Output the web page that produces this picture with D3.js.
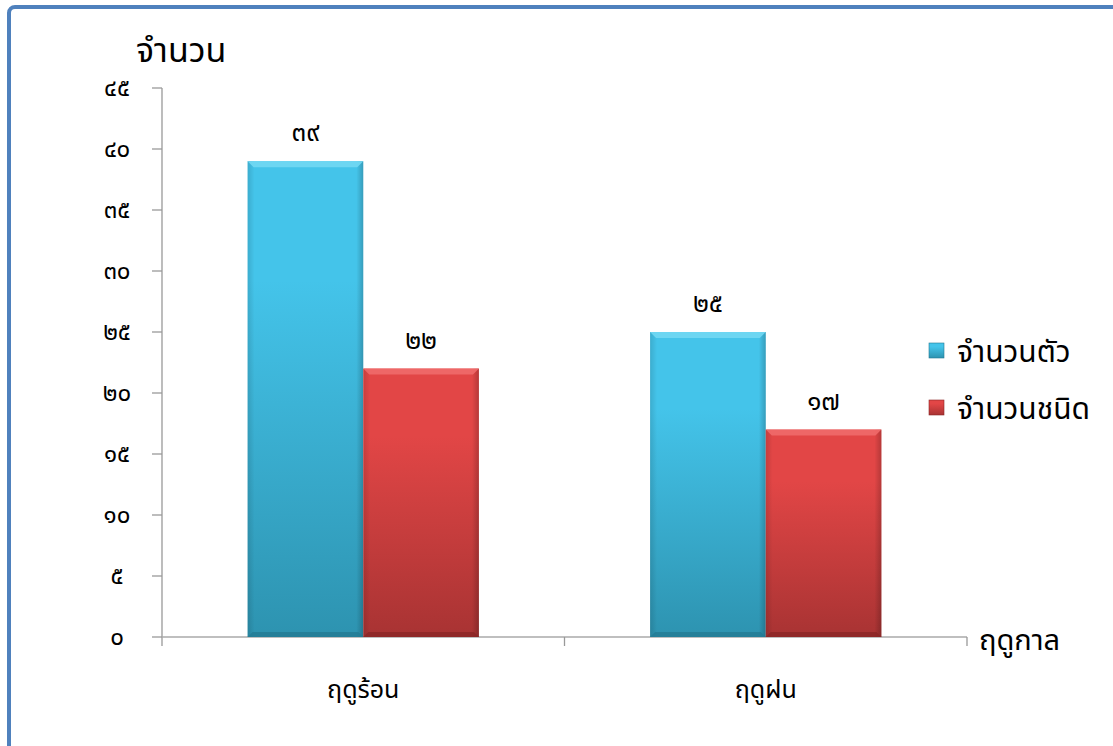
<!DOCTYPE html>
<html>
<head>
<meta charset="utf-8">
<script src="https://cdn.jsdelivr.net/npm/d3@7"></script>
<style>
  body { margin: 0; background: #fff; }
  text { font-family: "Noto Sans Thai", "Tahoma", "DejaVu Sans", "Noto Sans", sans-serif; fill: #000; }
</style>
</head>
<body>
<svg id="chart" width="1113" height="746"></svg>
<script>
// data
const categories = ["ฤดูร้อน", "ฤดูฝน"];
const seriesNames = ["จำนวนตัว", "จำนวนชนิด"];
const countValues = [39, 25];   // จำนวนตัว
const speciesValues = [22, 17]; // จำนวนชนิด
const yTicks = [0, 5, 10, 15, 20, 25, 30, 35, 40, 45];
const yTitle = "จำนวน";
const xTitle = "ฤดูกาล";

const thaiDigits = "๐๑๒๓๔๕๖๗๘๙";
function toThai(n) {
    return String(n).replace(/[0-9]/g, d => thaiDigits[+d]);
}

const rows = categories.map((c, i) => ({cat: c, values: [countValues[i], speciesValues[i]]}));

const svg = d3.select("#chart");

// frame
svg.append("rect")
    .attr("x", 9).attr("y", 7)
    .attr("width", 1300).attr("height", 900)
    .attr("rx", 6)
    .attr("fill", "#fff")
    .attr("stroke", "#4f81bd")
    .attr("stroke-width", 4);

const plotLeft = 162, plotRight = 967, plotTop = 88, plotBottom = 637;

const y = d3.scaleLinear().domain([0, 45]).range([plotBottom, plotTop]);
const x0 = d3.scaleBand().domain(categories).range([plotLeft, plotRight]);
const x1 = d3.scaleBand().domain(seriesNames).range([0, x0.bandwidth()]).paddingInner(0).paddingOuter(0.74);

// gradients for bar shading
const defs = svg.append("defs");
const palettes = [
    {id: "gBlue", top: "#44c4ea", bottom: "#2d93b0", edge: "#72d8f3", dark: "#237a93"},
    {id: "gRed", top: "#e24646", bottom: "#a83333", edge: "#f06a6a", dark: "#8a2626"}
];
palettes.forEach(p => {
    const g = defs.append("linearGradient").attr("id", p.id)
        .attr("x1", 0).attr("y1", 0).attr("x2", 0).attr("y2", 1);
    g.append("stop").attr("offset", "0%").attr("stop-color", p.top);
    g.append("stop").attr("offset", "25%").attr("stop-color", p.top);
    g.append("stop").attr("offset", "100%").attr("stop-color", p.bottom);
    const h = defs.append("linearGradient").attr("id", p.id + "H")
        .attr("x1", 0).attr("y1", 0).attr("x2", 1).attr("y2", 0);
    h.append("stop").attr("offset", "0%").attr("stop-color", "#000").attr("stop-opacity", 0.12);
    h.append("stop").attr("offset", "6%").attr("stop-color", "#000").attr("stop-opacity", 0);
    h.append("stop").attr("offset", "94%").attr("stop-color", "#000").attr("stop-opacity", 0);
    h.append("stop").attr("offset", "100%").attr("stop-color", "#000").attr("stop-opacity", 0.2);
});

// y axis
const yAxis = svg.append("g").attr("class", "axis");
yAxis.append("line")
    .attr("x1", plotLeft).attr("x2", plotLeft)
    .attr("y1", plotTop).attr("y2", plotBottom + 9)
    .attr("stroke", "#999").attr("stroke-width", 1.3);
yAxis.selectAll(".ytick")
    .data(yTicks)
    .join("line")
    .attr("x1", plotLeft - 10).attr("x2", plotLeft)
    .attr("y1", d => y(d)).attr("y2", d => y(d))
    .attr("stroke", "#999").attr("stroke-width", 1.3);
yAxis.selectAll(".ylabel")
    .data(yTicks)
    .join("text")
    .attr("x", 117)
    .attr("y", d => y(d) + 8)
    .attr("text-anchor", "middle")
    .attr("font-size", 24)
    .text(d => toThai(d));

// x axis
svg.append("line")
    .attr("x1", plotLeft).attr("x2", plotRight)
    .attr("y1", plotBottom).attr("y2", plotBottom)
    .attr("stroke", "#aaa").attr("stroke-width", 1.5);
const xTickPos = [x0(categories[1]), plotRight];
svg.selectAll(".xtick")
    .data(xTickPos)
    .join("line")
    .attr("x1", d => d).attr("x2", d => d)
    .attr("y1", plotBottom).attr("y2", plotBottom + 9)
    .attr("stroke", "#999").attr("stroke-width", 1.3);

svg.selectAll(".catlabel")
    .data(categories)
    .join("text")
    .attr("x", d => x0(d) + x0.bandwidth() / 2)
    .attr("y", 698)
    .attr("text-anchor", "middle")
    .attr("font-size", 25)
    .text(d => d);

// bars
const groups = svg.selectAll(".grp")
    .data(rows)
    .join("g")
    .attr("transform", d => `translate(${x0(d.cat)},0)`);

const bars = groups.selectAll(".bar")
    .data(d => d.values.map((v, i) => ({series: seriesNames[i], value: v, idx: i})))
    .join("g");

bars.append("rect")
    .attr("x", d => x1(d.series))
    .attr("y", d => y(d.value))
    .attr("width", x1.bandwidth())
    .attr("height", d => plotBottom - y(d.value))
    .attr("fill", d => `url(#${palettes[d.idx].id})`);
bars.append("rect")
    .attr("x", d => x1(d.series))
    .attr("y", d => y(d.value))
    .attr("width", x1.bandwidth())
    .attr("height", d => plotBottom - y(d.value))
    .attr("fill", d => `url(#${palettes[d.idx].id}H)`);
// bevel top highlight
bars.append("path")
    .attr("d", d => {
        const x = x1(d.series), w = x1.bandwidth(), t = y(d.value);
        return `M${x},${t}L${x + w},${t}L${x + w - 6},${t + 6}L${x + 6},${t + 6}Z`;
    })
    .attr("fill", d => palettes[d.idx].edge)
    .attr("opacity", 0.9);
// bevel bottom shade
bars.append("path")
    .attr("d", d => {
        const x = x1(d.series), w = x1.bandwidth();
        return `M${x},${plotBottom}L${x + w},${plotBottom}L${x + w - 5},${plotBottom - 5}L${x + 5},${plotBottom - 5}Z`;
    })
    .attr("fill", d => palettes[d.idx].dark)
    .attr("opacity", 0.8);

// value labels
bars.append("text")
    .attr("x", d => x1(d.series) + x1.bandwidth() / 2)
    .attr("y", d => y(d.value) - 20)
    .attr("text-anchor", "middle")
    .attr("font-size", 26)
    .text(d => toThai(d.value));

// titles
svg.append("text")
    .attr("x", 136).attr("y", 62)
    .attr("font-size", 34)
    .text(yTitle);
svg.append("text")
    .attr("x", 979).attr("y", 650)
    .attr("font-size", 29)
    .text(xTitle);

// legend
const legend = svg.append("g").attr("transform", "translate(929,343)");
const items = legend.selectAll(".leg")
    .data(seriesNames)
    .join("g")
    .attr("transform", (d, i) => `translate(0,${i * 57})`);
items.append("rect")
    .attr("width", 15).attr("height", 15)
    .attr("fill", (d, i) => `url(#${palettes[i].id})`)
    .attr("stroke", (d, i) => palettes[i].dark)
    .attr("stroke-width", 0.6);
items.append("text")
    .attr("x", 28).attr("y", 19)
    .attr("font-size", 30)
    .text(d => d);
</script>
</body>
</html>
